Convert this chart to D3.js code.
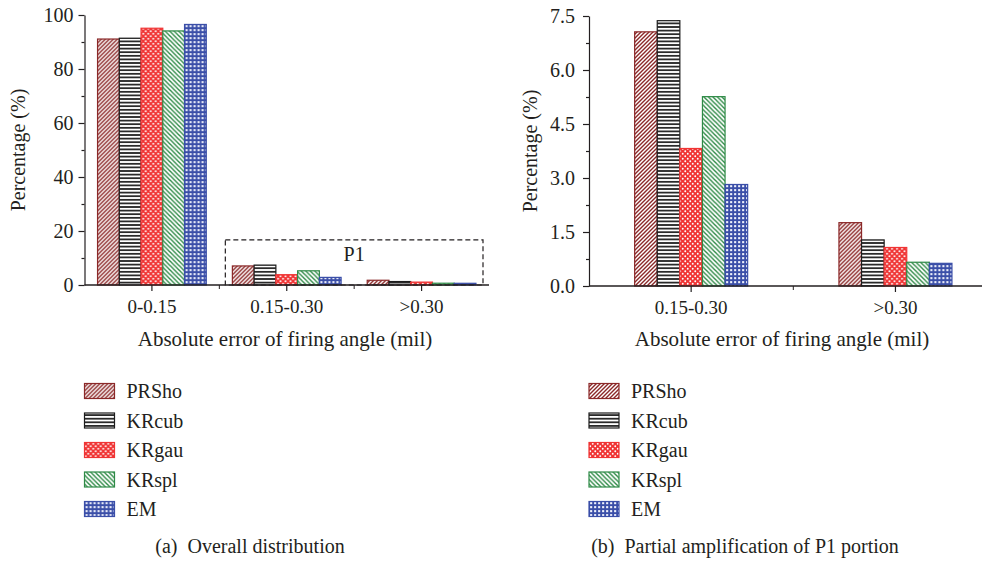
<!DOCTYPE html>
<html>
<head>
<meta charset="utf-8">
<script src="https://cdn.jsdelivr.net/npm/d3@7"></script>
<style>
  body { margin: 0; background: #fff; }
  svg text { font-family: "Liberation Serif", "DejaVu Serif", serif; fill: #231f20; }
</style>
</head>
<body>
<svg id="chart" width="991" height="562"></svg>
<script>
// ---- data ----
const categories = ['0-0.15', '0.15-0.30', '>0.30'];
const methods = ['PRSho', 'KRcub', 'KRgau', 'KRspl', 'EM'];
const prsho = [91.1, 7.06, 1.76];
const krcub = [91.4, 7.37, 1.28];
const krgau = [95.1, 3.82, 1.07];
const krspl = [94.1, 5.26, 0.66];
const em    = [96.5, 2.82, 0.63];
const yTicksA = [0, 20, 40, 60, 80, 100];
const yTicksB = [0, 1.5, 3.0, 4.5, 6.0, 7.5];
const p1Top = 16.7;

const seriesValues = [prsho, krcub, krgau, krspl, em];
const colors = ['#8b2828', '#1c1c1c', '#f03434', '#2e8a46', '#3a4ea8'];

const svg = d3.select('#chart');
const defs = svg.append('defs');

// fill patterns, one per method
function pattern(id, w, h, bg) {
  const p = defs.append('pattern')
    .attr('id', id)
    .attr('patternUnits', 'userSpaceOnUse')
    .attr('width', w).attr('height', h);
  p.append('rect').attr('width', w).attr('height', h).attr('fill', bg);
  return p;
}
pattern('pat0', 4, 4, '#fff').append('path')
  .attr('d', 'M-1,1L1,-1M0,4L4,0M3,5L5,3')
  .attr('stroke', colors[0]).attr('stroke-width', 1.4);
pattern('pat1', 4, 3.6, '#fff').append('line')
  .attr('x1', 0).attr('x2', 4).attr('y1', 1.8).attr('y2', 1.8)
  .attr('stroke', colors[1]).attr('stroke-width', 1.7);
const pg = pattern('pat2', 5, 5, colors[2]);
pg.append('circle').attr('cx', 1.25).attr('cy', 1.25).attr('r', 0.95).attr('fill', '#fff');
pg.append('circle').attr('cx', 3.75).attr('cy', 3.75).attr('r', 0.95).attr('fill', '#fff');
pattern('pat3', 4.5, 4.5, '#fff').append('path')
  .attr('d', 'M0,0L4.5,4.5M-1,3.5L1,5.5M3.5,-1L5.5,1')
  .attr('stroke', colors[3]).attr('stroke-width', 1.4);
pattern('pat4', 4, 4, colors[4]).append('rect')
  .attr('x', 1.1).attr('y', 1.1).attr('width', 2.1).attr('height', 2.1).attr('fill', '#eef0fb');

const series = methods.map((m, i) => ({ method: m, i: i, values: seriesValues[i] }));

// ---- one panel ----
function panel(opts) {
  const { cats, x0, x1, y, yTicks, yFmt, yPad, xEnd, ylabX, titleX } = opts;
  const g = svg.append('g');

  // bars
  const groups = g.selectAll('g.grp')
    .data(cats)
    .enter().append('g')
    .attr('transform', c => `translate(${x0(c)},0)`);
  groups.selectAll('rect')
    .data(c => series.map(s => ({ s: s, v: s.values[categories.indexOf(c)] })))
    .enter().append('rect')
    .attr('x', d => x1(d.s.method))
    .attr('width', x1.bandwidth())
    .attr('y', d => y(d.v))
    .attr('height', d => y(0) - y(d.v))
    .attr('fill', d => `url(#pat${d.s.i})`)
    .attr('stroke', d => colors[d.s.i])
    .attr('stroke-width', 1.2);

  // y axis (axis call sets font-size 10, so set ours afterwards)
  g.append('g')
    .attr('transform', `translate(${x0.range()[0]},0)`)
    .call(d3.axisLeft(y).tickValues(yTicks).tickFormat(yFmt).tickSize(6).tickSizeOuter(0).tickPadding(yPad))
    .attr('font-size', 20);
  const minor = yTicks.slice(1).map((t, i) => (t + yTicks[i]) / 2);
  g.append('g')
    .attr('transform', `translate(${x0.range()[0]},0)`)
    .call(d3.axisLeft(y).tickValues(minor).tickFormat('').tickSize(3).tickSizeOuter(0))
    .select('.domain').remove();

  // x axis
  const xa = g.append('g')
    .attr('transform', `translate(0,${y(0)})`)
    .call(d3.axisBottom(x0).tickSize(6).tickSizeOuter(0).tickPadding(9))
    .attr('font-size', 19);
  xa.select('.domain').remove();
  g.append('line')
    .attr('x1', x0.range()[0]).attr('x2', xEnd)
    .attr('y1', y(0)).attr('y2', y(0))
    .attr('stroke', '#231f20').attr('stroke-width', 1.3);
  g.selectAll('line.minor')
    .data(cats.slice(1))
    .enter().append('line')
    .attr('x1', c => x0(c)).attr('x2', c => x0(c))
    .attr('y1', y(0)).attr('y2', y(0) + 4)
    .attr('stroke', '#231f20');

  g.selectAll('.domain, .tick line').attr('stroke', '#231f20').attr('stroke-width', 1.2);

  // titles
  g.append('text')
    .attr('transform', `translate(${ylabX},${(y.range()[0] + y.range()[1]) / 2}) rotate(-90)`)
    .attr('text-anchor', 'middle')
    .attr('font-size', 20)
    .text('Percentage (%)');
  g.append('text')
    .attr('x', titleX).attr('y', 346)
    .attr('text-anchor', 'middle')
    .attr('font-size', 21)
    .text('Absolute error of firing angle (mil)');

  // legend
  const lg = g.append('g')
    .attr('transform', `translate(${x0.range()[0]},0)`);
  const rows = lg.selectAll('g')
    .data(series)
    .enter().append('g')
    .attr('transform', (d, i) => `translate(0,${391 + i * 29.5})`);
  rows.append('rect')
    .attr('x', 0).attr('y', -7.5)
    .attr('width', 30).attr('height', 15)
    .attr('fill', d => `url(#pat${d.i})`)
    .attr('stroke', d => colors[d.i])
    .attr('stroke-width', 1.2);
  rows.append('text')
    .attr('x', 42).attr('dy', '0.35em')
    .attr('font-size', 20)
    .text(d => d.method);
  return g;
}

// ---- (a) overall distribution ----
const yA = d3.scaleLinear().domain([0, 100]).range([285, 15]);
const x0A = d3.scaleBand().domain(categories).range([84.5, 489]);
const x1A = d3.scaleBand().domain(methods).range([0, x0A.bandwidth()]).paddingOuter(0.6);
const gA = panel({ cats: categories, x0: x0A, x1: x1A, y: yA, yTicks: yTicksA,
  yFmt: d3.format('d'), yPad: 5, xEnd: 489, ylabX: 25, titleX: 285 });

// P1 dashed box
gA.append('rect')
  .attr('x', x0A(categories[1]) + 6)
  .attr('y', yA(p1Top))
  .attr('width', x0A(categories[2]) + x0A.bandwidth() - 6 - (x0A(categories[1]) + 6))
  .attr('height', yA(0) - yA(p1Top))
  .attr('fill', 'none')
  .attr('stroke', '#231f20')
  .attr('stroke-width', 1.2)
  .attr('stroke-dasharray', '5,3');
gA.append('text')
  .attr('x', x0A(categories[2]))
  .attr('y', yA(p1Top) + 21)
  .attr('text-anchor', 'middle')
  .attr('font-size', 20)
  .text('P1');

// ---- (b) partial amplification ----
const catsB = categories.slice(1);
const yB = d3.scaleLinear().domain([0, 7.5]).range([286, 16]);
const x0B = d3.scaleBand().domain(catsB).range([589, 997.6]);
const x1B = d3.scaleBand().domain(methods).range([0, x0B.bandwidth()]).paddingOuter(2.02);
panel({ cats: catsB, x0: x0B, x1: x1B, y: yB, yTicks: yTicksB,
  yFmt: d3.format('.1f'), yPad: 8, xEnd: 982, ylabX: 537, titleX: 782 });

// captions
svg.append('text').attr('x', 250).attr('y', 553).attr('font-size', 20)
  .attr('text-anchor', 'middle')
  .attr('xml:space', 'preserve').text('(a)  Overall distribution');
svg.append('text').attr('x', 745).attr('y', 553).attr('font-size', 20)
  .attr('text-anchor', 'middle')
  .attr('xml:space', 'preserve').text('(b)  Partial amplification of P1 portion');
</script>
</body>
</html>
